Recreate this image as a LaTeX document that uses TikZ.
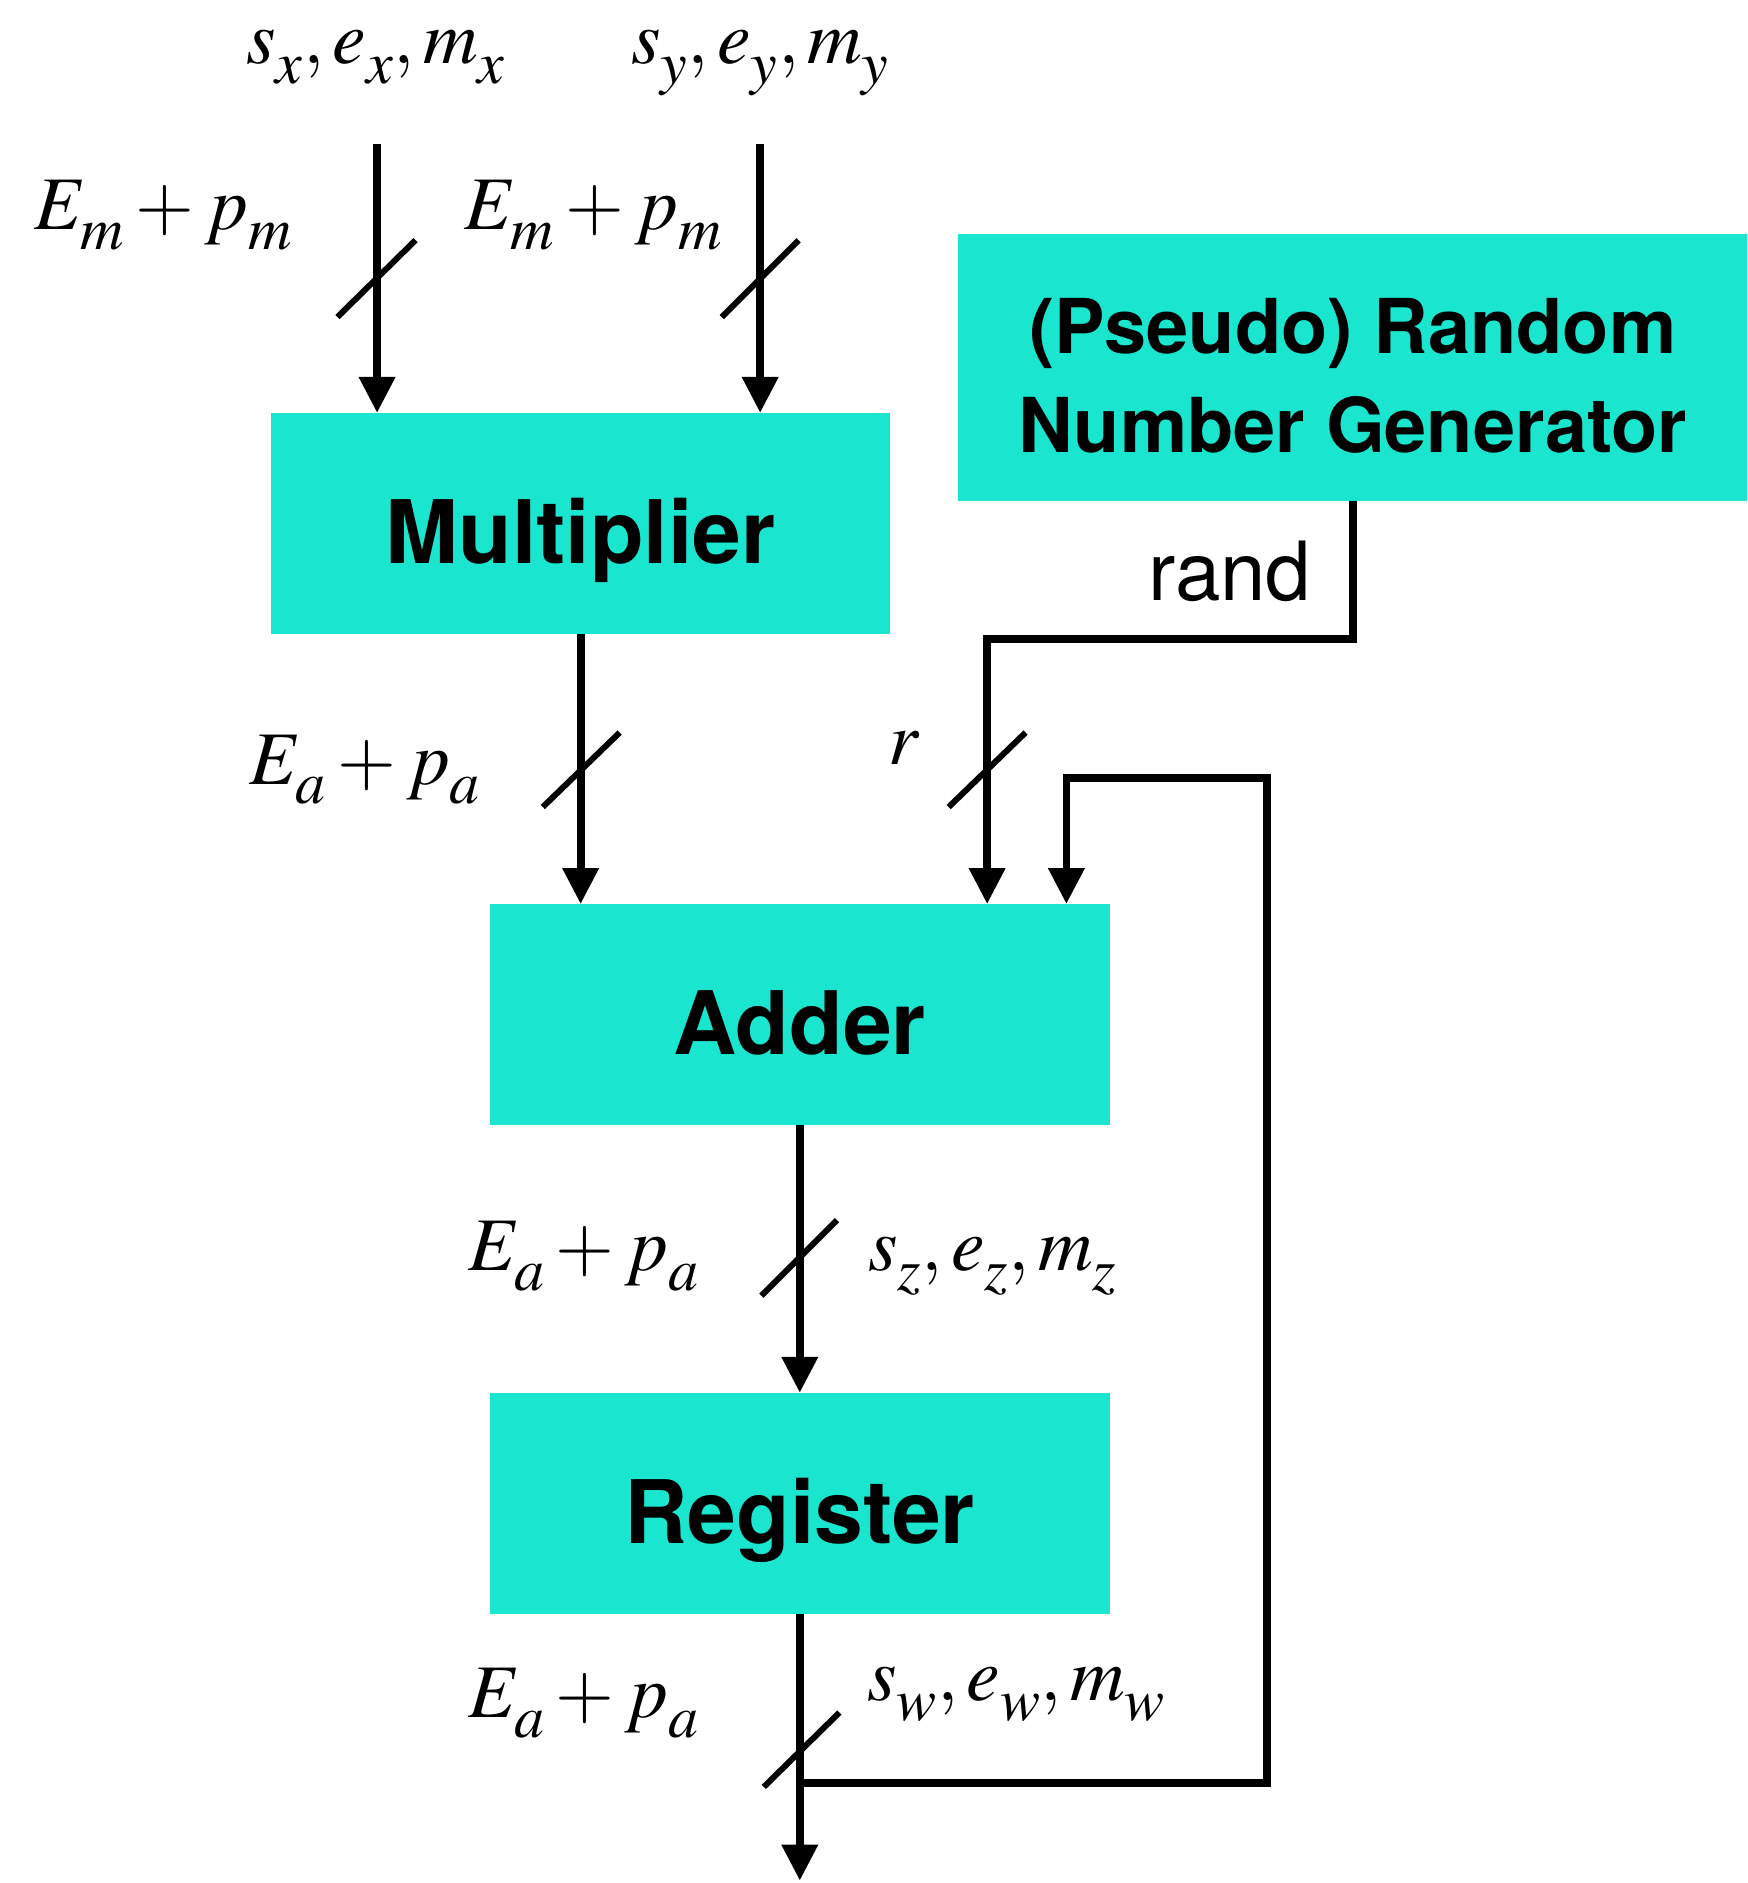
\documentclass[tikz,border=0pt]{standalone}
\usepackage{mathptmx}
\usepackage{fontspec}
\setmainfont{Liberation Serif}
\newfontfamily\boxfont{TeX Gyre Heros}
\usetikzlibrary{arrows.meta}
\definecolor{boxcyan}{HTML}{1AE6CF}
\DeclareMathSizes{63}{63}{50}{40}
\newcommand\lsub[1]{_{\raisebox{-7pt}{$\scriptstyle #1$}}}
\begin{document}
\begin{tikzpicture}[x=1pt,y=-1pt,
  blk/.style={fill=boxcyan,draw=none,inner sep=0pt,text height=66pt,text depth=0pt,
    font=\boxfont\bfseries\fontsize{73}{80}\selectfont},
  wire/.style={line width=6.5pt},
  arr/.style={wire,-{Triangle[length=30pt,width=29pt]}},
  slash/.style={line width=5pt},
  mlab/.style={font=\fontsize{63}{70}\selectfont,inner sep=0pt,anchor=base}]
\useasboundingbox (0,0) rectangle (1455,1568);

% blocks
\node[blk,minimum width=515pt,minimum height=184pt] (mult) at (483.5,436) {Multiplier};
\node[fill=boxcyan,draw=none,inner sep=0pt,minimum width=657pt,minimum height=222pt,align=center,
  font=\boxfont\bfseries\fontsize{63}{82}\selectfont] (rng) at (1126.5,306) {\rule{0pt}{60pt}(Pseudo) Random\\Number Generator};
\node[blk,minimum width=516pt,minimum height=184pt] (add) at (666,845) {Adder};
\node[blk,minimum width=516pt,minimum height=184pt] (reg) at (666,1252) {Register};

% connectors
\coordinate (inx) at (314,120);
\coordinate (iny) at (633,120);
\draw[arr] (inx) -- (inx |- mult.north);
\draw[arr] (iny) -- (iny |- mult.north);
\draw[arr] (mult.south) -- (add.north -| mult.south);
\coordinate (rbend) at (822,532);
\draw[arr] (rng.south) |- (rbend) -- (rbend |- add.north);
\draw[arr] (add.south) -- (reg.north);
\coordinate (out) at (666,1566);
\draw[arr] (reg.south) -- (out);
\coordinate (j) at (666,1485);
\coordinate (fb1) at (1055,1485);
\coordinate (fb2) at (1055,648);
\coordinate (fb3) at (888,648);
\draw[arr] (j) -- (fb1) -- (fb2) -- (fb3) -- (fb3 |- add.north);

% bus slashes
\draw[slash] (281,264) -- (346,200);
\draw[slash] (601,264) -- (665,200);
\draw[slash] (452,672) -- (516,610);
\draw[slash] (790,672) -- (854,610);
\draw[slash] (634,1079) -- (697,1016);
\draw[slash] (636,1488) -- (699,1426);

% labels
\node[mlab] (lx) at (313,53) {$s\lsub{x}, e\lsub{x}, m\lsub{x}$};
\node[mlab] (ly) at (633,53) {$s\lsub{y}, e\lsub{y}, m\lsub{y}$};
\node[mlab] (lm1) at (136,191) {$E\lsub{m} + p\lsub{m}$};
\node[mlab] (lm2) at (494,191) {$E\lsub{m} + p\lsub{m}$};
\node[mlab] (la1) at (304,653) {$E\lsub{a} + p\lsub{a}$};
\node[mlab] (lr) at (753,637) {$r$};
\node[mlab] (la2) at (486,1058) {$E\lsub{a} + p\lsub{a}$};
\node[mlab,anchor=base west] (lz) at (723,1058) {$s\lsub{z}, e\lsub{z}, m\lsub{z}$};
\node[mlab] (la3) at (486,1430) {$E\lsub{a} + p\lsub{a}$};
\node[mlab,anchor=base west] (lw) at (722,1416) {$s\lsub{w}, e\lsub{w}, m\lsub{w}$};
\node[font=\boxfont\fontsize{68}{80}\selectfont,anchor=base east,inner sep=0pt] (lrand) at (1092,500) {rand};
\end{tikzpicture}
\end{document}
